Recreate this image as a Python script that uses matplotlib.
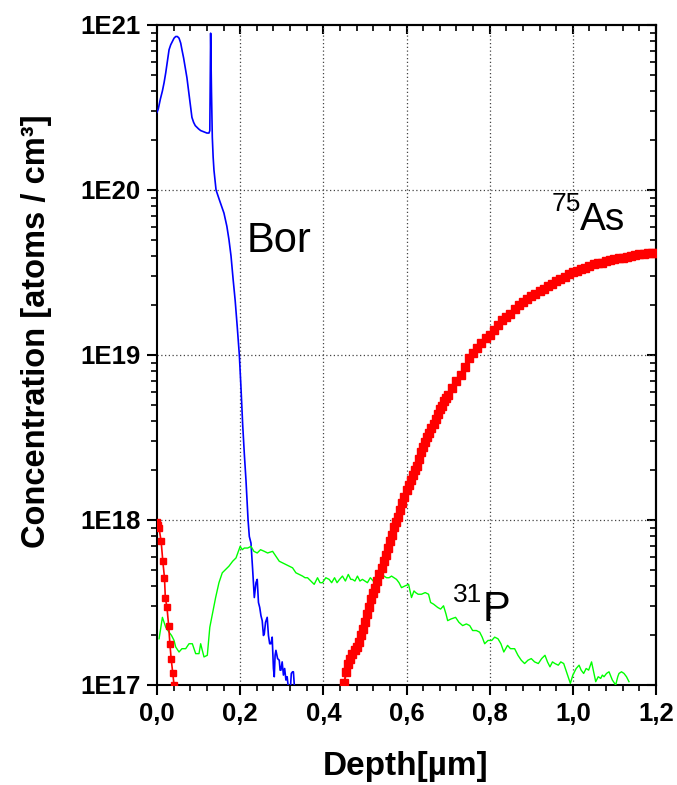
import numpy as np
import matplotlib
matplotlib.use("Agg")
import matplotlib.pyplot as plt
from matplotlib.ticker import FixedLocator, LogLocator, NullFormatter, FuncFormatter, MultipleLocator

# ---- SIMS depth profiles (depth in µm, concentration as log10(atoms/cm^3)) ----
bor_depth = [0.000, 0.003, 0.008, 0.013, 0.017, 0.021, 0.025, 0.029, 0.033, 0.037,
             0.041, 0.045, 0.049, 0.053, 0.057, 0.060, 0.064, 0.068, 0.072, 0.076,
             0.080, 0.084, 0.088, 0.092, 0.096, 0.100, 0.105, 0.110, 0.115, 0.120,
             0.125, 0.127, 0.129, 0.131, 0.133, 0.135, 0.137, 0.142, 0.150, 0.161,
             0.168, 0.173, 0.178, 0.183, 0.188, 0.193, 0.198, 0.202, 0.206, 0.210,
             0.214, 0.219, 0.222, 0.226, 0.230, 0.234, 0.238, 0.241, 0.244, 0.247,
             0.250, 0.253, 0.256, 0.258, 0.261, 0.265, 0.268, 0.271, 0.274, 0.277,
             0.280, 0.282, 0.284, 0.286, 0.290, 0.294, 0.296, 0.298, 0.301, 0.304,
             0.307, 0.310, 0.313, 0.316, 0.320, 0.323, 0.326, 0.328, 0.331, 0.334]
bor_log = [20.47, 20.49, 20.55, 20.60, 20.65, 20.71, 20.78, 20.85, 20.88, 20.90,
           20.92, 20.93, 20.93, 20.92, 20.89, 20.85, 20.80, 20.74, 20.68, 20.60,
           20.52, 20.44, 20.41, 20.39, 20.38, 20.37, 20.36, 20.355, 20.35, 20.345,
           20.345, 20.36, 20.95, 20.60, 20.32, 20.20, 20.12, 20.00, 19.94, 19.86,
           19.78, 19.70, 19.60, 19.46, 19.33, 19.17, 19.00, 18.80, 18.58, 18.40,
           18.24, 18.00, 17.90, 17.86, 17.70, 17.53, 17.62, 17.64, 17.50, 17.47,
           17.42, 17.39, 17.30, 17.31, 17.38, 17.41, 17.30, 17.25, 17.25, 17.29,
           17.10, 17.05, 17.18, 17.21, 17.16, 17.15, 17.09, 17.09, 17.14, 17.06,
           17.10, 17.03, 17.05, 16.98, 16.95, 17.07, 17.08, 17.08, 16.97, 16.90]

p_depth = [0.005, 0.013, 0.021, 0.029, 0.035, 0.041, 0.045, 0.053, 0.060, 0.069,
           0.077, 0.085, 0.093, 0.101, 0.105, 0.113, 0.121, 0.127, 0.134, 0.141,
           0.149, 0.157, 0.165, 0.173, 0.182, 0.190, 0.200, 0.205, 0.210, 0.218,
           0.226, 0.233, 0.241, 0.249, 0.258, 0.266, 0.278, 0.286, 0.294, 0.302,
           0.310, 0.318, 0.326, 0.334, 0.342, 0.350, 0.356, 0.362, 0.370, 0.378,
           0.386, 0.392, 0.398, 0.406, 0.414, 0.420, 0.427, 0.433, 0.439, 0.446,
           0.453, 0.460, 0.466, 0.470, 0.476, 0.482, 0.488, 0.494, 0.500, 0.506,
           0.513, 0.520, 0.527, 0.533, 0.540, 0.546, 0.552, 0.558, 0.564, 0.570,
           0.576, 0.582, 0.588, 0.596, 0.605, 0.612, 0.618, 0.622, 0.628, 0.636,
           0.645, 0.653, 0.658, 0.665, 0.675, 0.682, 0.689, 0.695, 0.699, 0.707,
           0.718, 0.726, 0.735, 0.744, 0.752, 0.759, 0.768, 0.776, 0.782, 0.788,
           0.796, 0.805, 0.812, 0.820, 0.827, 0.834, 0.843, 0.850, 0.860, 0.868,
           0.876, 0.884, 0.892, 0.900, 0.908, 0.917, 0.925, 0.933, 0.939, 0.945,
           0.951, 0.957, 0.965, 0.971, 0.978, 0.986, 0.994, 1.000, 1.008, 1.015,
           1.020, 1.026, 1.032, 1.038, 1.045, 1.050, 1.055, 1.061, 1.067, 1.071,
           1.075, 1.081, 1.087, 1.095, 1.103, 1.108, 1.111, 1.117, 1.123, 1.129,
           1.135]
p_log = [17.28, 17.41, 17.35, 17.32, 17.30, 17.27, 17.23, 17.20, 17.22, 17.22,
         17.25, 17.25, 17.19, 17.19, 17.25, 17.17, 17.18, 17.35, 17.44, 17.53,
         17.62, 17.68, 17.70, 17.72, 17.75, 17.77, 17.84, 17.82, 17.83, 17.83,
         17.84, 17.81, 17.80, 17.82, 17.81, 17.80, 17.81, 17.78, 17.75, 17.74,
         17.73, 17.72, 17.71, 17.68, 17.67, 17.66, 17.65, 17.65, 17.63, 17.61,
         17.65, 17.62, 17.62, 17.65, 17.64, 17.62, 17.65, 17.62, 17.64, 17.66,
         17.63, 17.67, 17.64, 17.64, 17.63, 17.66, 17.63, 17.64, 17.63, 17.62,
         17.65, 17.63, 17.66, 17.65, 17.66, 17.66, 17.65, 17.65, 17.66, 17.65,
         17.64, 17.62, 17.59, 17.60, 17.61, 17.53, 17.57, 17.56, 17.55, 17.55,
         17.56, 17.55, 17.50, 17.49, 17.47, 17.46, 17.48, 17.43, 17.39, 17.40,
         17.41, 17.38, 17.36, 17.37, 17.36, 17.33, 17.33, 17.32, 17.29, 17.25,
         17.27, 17.27, 17.29, 17.28, 17.25, 17.20, 17.24, 17.22, 17.22, 17.18,
         17.15, 17.13, 17.15, 17.16, 17.14, 17.13, 17.16, 17.18, 17.14, 17.11,
         17.14, 17.13, 17.12, 17.14, 17.13, 17.07, 17.01, 17.06, 17.10, 17.12,
         17.09, 17.07, 17.10, 17.09, 17.14, 17.08, 17.02, 17.05, 17.04, 17.06,
         17.05, 17.07, 17.08, 17.03, 17.00, 17.05, 17.07, 17.08, 17.07, 17.05,
         17.02]

# Arsenic: shallow surface peak and the deep implant tail
as_surf_depth = [0.000, 0.003, 0.005, 0.010, 0.014, 0.018, 0.020, 0.024, 0.028,
                 0.031, 0.034, 0.038, 0.041, 0.044]
as_surf_log = [17.99, 17.97, 17.95, 17.87, 17.75, 17.65, 17.53, 17.47, 17.36,
               17.25, 17.16, 17.07, 17.00, 16.92]

as_deep_depth = [0.450, 0.455, 0.460, 0.465, 0.470, 0.475, 0.480, 0.485, 0.490, 0.495,
                 0.500, 0.505, 0.510, 0.515, 0.520, 0.525, 0.530, 0.535, 0.540, 0.545,
                 0.550, 0.555, 0.560, 0.565, 0.570, 0.575, 0.580, 0.585, 0.590, 0.595,
                 0.600, 0.605, 0.610, 0.615, 0.620, 0.625, 0.630, 0.635, 0.640, 0.645,
                 0.650, 0.655, 0.660, 0.665, 0.670, 0.675, 0.680, 0.685, 0.690, 0.695,
                 0.700, 0.710, 0.720, 0.730, 0.740, 0.750, 0.760, 0.770, 0.780, 0.790,
                 0.800, 0.810, 0.820, 0.830, 0.840, 0.850, 0.860, 0.870, 0.880, 0.890,
                 0.900, 0.910, 0.920, 0.930, 0.940, 0.950, 0.960, 0.970, 0.980, 0.990,
                 1.000, 1.010, 1.020, 1.030, 1.040, 1.050, 1.060, 1.070, 1.080, 1.090,
                 1.100, 1.110, 1.120, 1.130, 1.140, 1.150, 1.160, 1.170, 1.180, 1.190,
                 1.200]
as_deep_log = [17.01, 17.08, 17.13, 17.16, 17.19, 17.21, 17.23, 17.26, 17.30, 17.34,
               17.38, 17.43, 17.47, 17.52, 17.56, 17.59, 17.63, 17.67, 17.71, 17.75,
               17.79, 17.83, 17.87, 17.91, 17.96, 17.99, 18.02, 18.06, 18.10, 18.14,
               18.18, 18.21, 18.24, 18.27, 18.30, 18.33, 18.37, 18.41, 18.44, 18.47,
               18.50, 18.53, 18.56, 18.58, 18.61, 18.64, 18.67, 18.69, 18.72, 18.74,
               18.76, 18.80, 18.84, 18.88, 18.93, 18.98, 19.01, 19.04, 19.07, 19.10,
               19.12, 19.15, 19.18, 19.21, 19.23, 19.25, 19.28, 19.30, 19.32, 19.34,
               19.36, 19.37, 19.39, 19.40, 19.42, 19.43, 19.45, 19.46, 19.47, 19.49,
               19.50, 19.51, 19.52, 19.53, 19.54, 19.55, 19.555, 19.56, 19.57, 19.575,
               19.58, 19.585, 19.59, 19.595, 19.60, 19.605, 19.61, 19.612, 19.615, 19.618,
               19.62]

x_ticks = [0.0, 0.2, 0.4, 0.6, 0.8, 1.0, 1.2]
y_decades = [17, 18, 19, 20, 21]


def conc(logs):
    return np.power(10.0, np.asarray(logs, dtype=float))


BOLD = ["Liberation Sans", "DejaVu Sans"]

fig = plt.figure(figsize=(6.77, 7.85), dpi=100)
ax = fig.add_axes([0.2319, 0.1274, 0.969 - 0.2319, 0.9682 - 0.1274])

ax.set_yscale("log")
ax.set_xlim(0.0, 1.2)
ax.set_ylim(1e17, 1e21)

# grid at the major ticks, dotted, interior lines only
for xv in x_ticks[1:-1]:
    ax.axvline(xv, color="#444444", lw=0.9, ls=(0, (1, 2)), zorder=0.5)
for d in y_decades[1:-1]:
    ax.axhline(10.0 ** d, color="#444444", lw=0.9, ls=(0, (1, 2)), zorder=0.5)

ax.plot(bor_depth, conc(bor_log), color="#0000ff", lw=1.2, zorder=3)
ax.plot(p_depth, conc(p_log), color="#00ff00", lw=1.0, zorder=3)
ax.plot(as_surf_depth, conc(as_surf_log), color="#ff0000", lw=1.2,
        marker="s", ms=4.8, mec="#ff0000", mfc="#ff0000", zorder=4)
ax.plot(as_deep_depth, conc(as_deep_log), color="#ff0000", lw=1.5,
        marker="s", ms=5.5, mec="#ff0000", mfc="#ff0000", zorder=4)

# ticks: outward on bottom/left, inward on the mirrored top/right axes
ax.xaxis.set_major_locator(FixedLocator(x_ticks))
ax.xaxis.set_minor_locator(MultipleLocator(0.04))
ax.xaxis.set_major_formatter(FuncFormatter(lambda v, p: f"{v:.1f}".replace(".", ",")))
ax.yaxis.set_major_locator(FixedLocator([10.0 ** d for d in y_decades]))
ax.yaxis.set_minor_locator(LogLocator(base=10, subs=np.arange(2, 10), numticks=20))
ax.yaxis.set_minor_formatter(NullFormatter())
ax.yaxis.set_major_formatter(FuncFormatter(lambda v, p: f"1E{int(round(np.log10(v)))}"))

ax.tick_params(which="major", direction="out", length=7, width=1.5, pad=5,
               labelsize=18.5, top=False, right=False)
ax.tick_params(which="minor", direction="out", length=4.5, width=1.2,
               top=False, right=False)
for lab in ax.get_xticklabels() + ax.get_yticklabels():
    lab.set_fontfamily(BOLD)
    lab.set_fontweight("bold")

top = ax.secondary_xaxis("top")
top.xaxis.set_major_locator(FixedLocator(x_ticks))
top.xaxis.set_minor_locator(MultipleLocator(0.04))
top.tick_params(which="major", direction="in", length=6.5, width=1.5, labeltop=False)
top.tick_params(which="minor", direction="in", length=4.3, width=1.2)

right = ax.secondary_yaxis("right")
right.yaxis.set_major_locator(FixedLocator([10.0 ** d for d in y_decades]))
right.yaxis.set_minor_locator(LogLocator(base=10, subs=np.arange(2, 10), numticks=20))
right.yaxis.set_minor_formatter(NullFormatter())
right.tick_params(which="major", direction="in", length=6.5, width=1.5, labelright=False)
right.tick_params(which="minor", direction="in", length=4.3, width=1.2)

for sp in list(ax.spines.values()) + list(top.spines.values()) + list(right.spines.values()):
    sp.set_linewidth(1.5)

ax.set_xlabel("Depth[µm]", fontsize=24, fontweight="bold", family=BOLD)
ax.xaxis.set_label_coords(0.499, -0.100)
ax.set_ylabel("Concentration [atoms / cm³]", fontsize=23.5, fontweight="bold",
              family=BOLD)
ax.yaxis.set_label_coords(-0.21, 0.536)

# element labels
ax.text(0.2145, 10 ** 19.624, "Bor", fontsize=30, family=BOLD, ha="left",
        va="baseline", zorder=5)
ax.text(1.017, 10 ** 19.758, "As", fontsize=28, family=BOLD, ha="left",
        va="baseline", zorder=5)
ax.text(0.949, 10 ** 19.99, "75", fontsize=19, family=BOLD, ha="left",
        va="top", zorder=5)
ax.text(0.783, 10 ** 17.388, "P", fontsize=30, family=BOLD, ha="left",
        va="baseline", zorder=5)
ax.text(0.711, 10 ** 17.618, "31", fontsize=19, family=BOLD, ha="left",
        va="top", zorder=5)

fig.savefig("out.png", dpi=100)
